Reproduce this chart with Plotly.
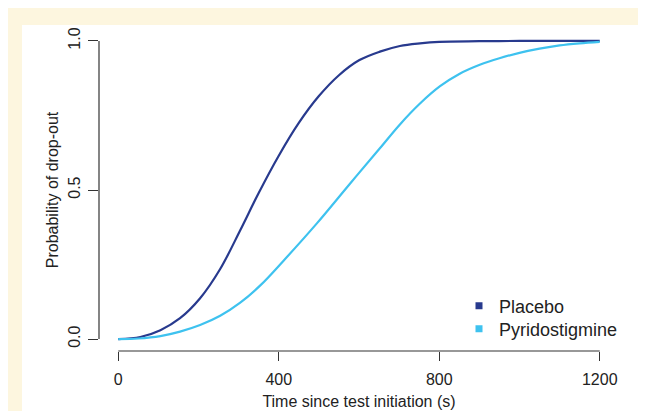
import plotly.graph_objects as go

# Data
time_placebo = [0, 55, 105, 154, 204, 254, 304, 350, 400, 450, 500, 550, 600, 652, 702, 752, 800, 900, 1000, 1100, 1200]
prob_placebo = [0.0, 0.007, 0.030, 0.070, 0.137, 0.235, 0.365, 0.490, 0.615, 0.725, 0.815, 0.885, 0.935, 0.964, 0.983, 0.992, 0.997, 0.999, 1.0, 1.0, 1.0]

time_pyrido = [0, 50, 105, 154, 204, 254, 304, 354, 412, 495, 578, 652, 702, 752, 802, 851, 901, 950, 1000, 1050, 1100, 1150, 1200]
prob_pyrido = [0.0, 0.002, 0.010, 0.025, 0.047, 0.078, 0.122, 0.180, 0.263, 0.388, 0.522, 0.640, 0.720, 0.790, 0.848, 0.890, 0.920, 0.942, 0.960, 0.974, 0.985, 0.992, 0.997]

series_names = ["Placebo", "Pyridostigmine"]
series_colors = ["#283a8e", "#3ec2ef"]

x_ticks = [0, 400, 800, 1200]
y_ticks = [0.0, 0.5, 1.0]
y_tick_labels = ["0.0", "0.5", "1.0"]

FONT = "Liberation Sans, Arial, Helvetica, sans-serif"

fig = go.Figure()
for name, xs, ys, col in [
    (series_names[0], time_placebo, prob_placebo, series_colors[0]),
    (series_names[1], time_pyrido, prob_pyrido, series_colors[1]),
]:
    fig.add_trace(go.Scatter(x=xs, y=ys, mode="lines", line=dict(color=col, width=2.2, shape="spline", smoothing=1.0),
                             showlegend=False, hoverinfo="skip"))
for i, (name, col) in enumerate(zip(series_names, series_colors)):
    fig.add_trace(go.Scatter(x=[None], y=[None], mode="markers", name=name,
                             legend="legend" if i == 0 else "legend2",
                             marker=dict(symbol="square", size=7, color=col)))

# page body has an 8px margin, so the figure sits at (8, 8) in the window
OFF = 8
W, H = 646 - OFF, 411 - OFF
L, R, T, B = 99 - OFF, 646 - 619, 29 - OFF, 411 - 351
pw, ph = W - L - R, H - T - B

def px_x(p):
    return (p - OFF - L) / pw

def px_y(p):
    return (H - B - (p - OFF)) / ph

shapes = [
    dict(type="rect", xref="paper", yref="paper", x0=px_x(0), x1=px_x(646), y0=px_y(411), y1=px_y(8),
         fillcolor="#fdf6df", line=dict(width=0), layer="below"),
    dict(type="rect", xref="paper", yref="paper", x0=px_x(22), x1=px_x(638), y0=px_y(411), y1=px_y(25),
         fillcolor="white", line=dict(width=0), layer="below"),
    # R-style axis lines spanning first to last tick
    dict(type="line", xref="x", yref="paper", x0=x_ticks[0], x1=x_ticks[-1], y0=0, y1=0,
         line=dict(color="#333333", width=1.2)),
    dict(type="line", xref="paper", yref="y", x0=0, x1=0, y0=y_ticks[0], y1=y_ticks[-1],
         line=dict(color="#333333", width=1.2)),
]

legend_common = dict(xanchor="left", yanchor="middle", bgcolor="rgba(0,0,0,0)",
                     font=dict(size=18), itemwidth=30, borderwidth=0)

fig.update_layout(
    width=W, height=H,
    margin=dict(l=L, r=R, t=T, b=B, pad=0, autoexpand=False),
    paper_bgcolor="white",
    plot_bgcolor="rgba(0,0,0,0)",
    font=dict(family=FONT, size=16, color="#222222"),
    shapes=shapes,
    xaxis=dict(range=[-48, 1248], tickvals=x_ticks, ticks="outside", ticklen=9, tickwidth=1.2,
               tickcolor="#333333", showgrid=False, zeroline=False, showline=False, automargin=False,
               ticklabelstandoff=5,
               tickfont=dict(size=16), title=dict(text="Time since test initiation (s)", standoff=8,
               font=dict(size=16))),
    yaxis=dict(range=[-0.04, 1.04], tickvals=y_ticks, ticktext=y_tick_labels, ticks="outside", ticklen=10,
               tickwidth=1.2, tickcolor="#333333", tickangle=-90, showgrid=False, zeroline=False,
               showline=False, automargin=False, tickfont=dict(size=16), ticklabelstandoff=2,
               title=dict(text="Probability of drop-out", standoff=2, font=dict(size=16))),
    legend=dict(x=px_x(459), y=px_y(306), **legend_common),
    legend2=dict(x=px_x(459), y=px_y(329), **legend_common),
)

fig.write_html("out.html", config={"displayModeBar": False})
